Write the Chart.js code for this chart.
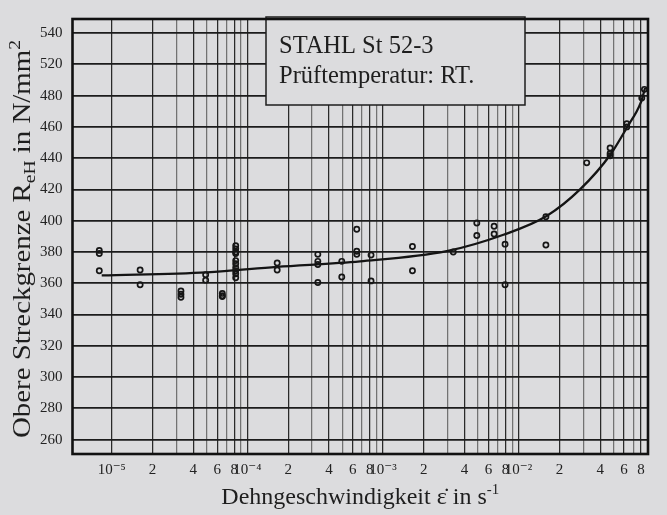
<!DOCTYPE html>
<html>
<head>
<meta charset="utf-8">
<script src="https://cdn.jsdelivr.net/npm/chart.js@4/dist/chart.umd.min.js"></script>
<style>
  html, body { margin: 0; padding: 0; background: #dcdcde; }
  #wrap { width: 667px; height: 515px; position: relative; }
</style>
</head>
<body>
<div id="wrap"><canvas id="c" width="667" height="515"></canvas></div>
<script>
// Upper yield strength of steel St 52-3 at room temperature, measured over strain rate.
const rateMeasured = [
  8.1e-6, 8.1e-6, 8.1e-6,
  1.62e-5, 1.62e-5,
  3.24e-5, 3.24e-5, 3.24e-5,
  4.93e-5, 4.93e-5,
  6.54e-5, 6.54e-5, 6.54e-5,
  8.21e-5, 8.21e-5, 8.21e-5, 8.21e-5, 8.21e-5, 8.21e-5, 8.21e-5, 8.21e-5, 8.21e-5, 8.21e-5,
  1.66e-4, 1.66e-4,
  3.31e-4, 3.31e-4, 3.31e-4, 3.31e-4,
  4.97e-4, 4.97e-4,
  6.41e-4, 6.41e-4, 6.41e-4,
  8.17e-4, 8.17e-4,
  1.65e-3, 1.65e-3,
  3.30e-3,
  4.92e-3, 4.92e-3,
  6.6e-3, 6.6e-3,
  7.95e-3, 7.95e-3,
  1.59e-2, 1.59e-2,
  3.18e-2,
  4.73e-2, 4.73e-2, 4.73e-2,
  6.28e-2, 6.28e-2,
  8.1e-2,
  8.47e-2
];
const stressMeasured = [
  381, 379, 368,
  368.5, 359,
  355, 353, 351,
  365.5, 362,
  353.5, 352, 351.5,
  384, 382, 380, 379, 374.5, 372.5, 370, 368, 366, 363.5,
  373, 368.5,
  378.5, 374, 372, 360.5,
  374, 364,
  394.5, 380.5, 378.5,
  378, 361.5,
  383.5, 368,
  380,
  398.5, 390.5,
  396.5, 391.5,
  385, 359,
  402.5, 384.5,
  437,
  441.5, 443, 446.5,
  460, 462,
  478.5,
  484
];

// Fitted trend line
const rateCurve   = [8.44e-6, 5.02e-5, 1.65e-4, 6.78e-4, 2.95e-3, 7.73e-3, 1.61e-2, 2.84e-2, 4.73e-2, 6.28e-2, 8.0e-2, 8.57e-2];
const stressCurve = [365,     367,     370.5,   374,     380.5,   391,     403,     420,     442,     459.5,   476,    485];

// Axis ticks
const decadeExponents = [-5, -4, -3, -2];
const mantissas = [1, 2, 3, 4, 5, 6, 7, 8, 9];
const labelledMantissas = [1, 2, 4, 6, 8];
const stressTicks = [260, 280, 300, 320, 340, 360, 380, 400, 420, 440, 460, 480, 500, 520];
const rateMin = 5.14e-6, rateMax = 0.0900;
const stressMin = 250.8, stressMax = 529;

const SERIF = '"Liberation Serif", "DejaVu Serif", serif';
const SUP = { '-': '\u207B', '0': '\u2070', '1': '\u00B9', '2': '\u00B2', '3': '\u00B3', '4': '\u2074', '5': '\u2075', '6': '\u2076', '7': '\u2077', '8': '\u2078', '9': '\u2079' };
const sup = s => String(s).split('').map(ch => SUP[ch] || ch).join('');

function splitLog(v) {
  const e = Math.floor(Math.log10(v) + 1e-9);
  const m = Math.round(v / Math.pow(10, e));
  return { e, m };
}

const rateTickValues = [];
decadeExponents.forEach(e => mantissas.forEach(m => {
  const v = m * Math.pow(10, e);
  if (v >= 1e-5 && v < 0.089) rateTickValues.push(v);
}));

const points = rateMeasured.map((x, i) => ({ x, y: stressMeasured[i] }));
const curve = rateCurve.map((x, i) => ({ x, y: stressCurve[i] }));

// Draws a row of text pieces (with sub/superscripts) centred on the origin,
// optionally stretched to a given overall length
function richText(ctx, parts, baseSize, length) {
  let total = 0;
  parts.forEach(p => {
    ctx.font = (p.scale ? baseSize * p.scale : baseSize) + 'px ' + SERIF;
    p.w = ctx.measureText(p.t).width;
    total += p.w;
  });
  if (length) ctx.scale(length / total, 1);
  let x = -total / 2;
  parts.forEach(p => {
    ctx.font = (p.scale ? baseSize * p.scale : baseSize) + 'px ' + SERIF;
    ctx.fillText(p.t, x, (p.dy || 0) * baseSize);
    x += p.w;
  });
}

const decorations = {
  id: 'decorations',
  beforeDatasetsDraw(chart) {
    const ctx = chart.ctx;
    // legend panel
    ctx.save();
    ctx.fillStyle = '#dcdcde';
    ctx.fillRect(266, 17, 259, 88);
    ctx.strokeStyle = '#1e1e1e';
    ctx.lineWidth = 1.5;
    ctx.strokeRect(266, 17, 259, 88);
    ctx.fillStyle = '#1e1e1e';
    ctx.textAlign = 'left';
    ctx.textBaseline = 'alphabetic';
    ctx.font = '24.5px ' + SERIF;
    ctx.fillText('STAHL St 52-3', 279, 53);
    ctx.fillText('Prüftemperatur: RT.', 279, 83);
    ctx.restore();
  },
  afterDatasetsDraw(chart) {
    const { ctx, chartArea: a } = chart;
    ctx.save();
    ctx.strokeStyle = '#111';
    ctx.lineWidth = 2.6;
    ctx.strokeRect(a.left, a.top, a.right - a.left, a.bottom - a.top);
    ctx.restore();
  },
  afterDraw(chart) {
    const { ctx, chartArea: a } = chart;
    ctx.save();
    ctx.fillStyle = '#1e1e1e';
    ctx.textAlign = 'left';
    ctx.textBaseline = 'alphabetic';
    // x-axis title
    ctx.save();
    ctx.translate((a.left + a.right) / 2, 504);
    richText(ctx, [
      { t: 'Dehngeschwindigkeit ' },
      { t: 'ε\u0307' },
      { t: ' in s' },
      { t: '-1', scale: 0.62, dy: -0.42 }
    ], 24);
    ctx.restore();
    // y-axis title
    ctx.save();
    ctx.translate(30, 239);
    ctx.rotate(-Math.PI / 2);
    richText(ctx, [
      { t: 'Obere Streckgrenze R' },
      { t: 'eH', scale: 0.68, dy: 0.2 },
      { t: ' in N/mm' },
      { t: '2', scale: 0.68, dy: -0.42 }
    ], 25, 398);
    ctx.restore();
    ctx.restore();
  }
};

new Chart(document.getElementById('c'), {
  type: 'scatter',
  data: {
    datasets: [
      {
        data: curve,
        showLine: true,
        cubicInterpolationMode: 'monotone',
        borderColor: '#141414',
        borderWidth: 2.3,
        pointRadius: 0,
        pointHoverRadius: 0,
        fill: false,
        order: 2
      },
      {
        data: points,
        showLine: false,
        pointRadius: 2.6,
        pointBorderWidth: 1.7,
        pointBorderColor: '#161616',
        pointBackgroundColor: 'rgba(0,0,0,0)',
        order: 1
      }
    ]
  },
  options: {
    responsive: false,
    animation: false,
    events: [],
    layout: { padding: { top: 17, right: 19, left: 0, bottom: 0 } },
    plugins: { legend: { display: false }, tooltip: { enabled: false } },
    scales: {
      x: {
        type: 'logarithmic',
        min: rateMin,
        max: rateMax,
        afterBuildTicks: s => { s.ticks = rateTickValues.map(v => ({ value: v })); },
        afterFit: s => { s.height = 61; },
        border: { display: false },
        grid: {
          drawTicks: false,
          lineWidth: 1.25,
          color: c => labelledMantissas.includes(splitLog(c.tick.value).m) ? '#2a2a2a' : '#727272'
        },
        ticks: {
          autoSkip: false,
          maxRotation: 0,
          minRotation: 0,
          padding: 7,
          color: '#222',
          font: { family: SERIF, size: 15 },
          callback: v => {
            const { e, m } = splitLog(v);
            if (!labelledMantissas.includes(m)) return '';
            return m === 1 ? '10' + sup(e) : String(m);
          }
        }
      },
      y: {
        type: 'linear',
        min: stressMin,
        max: stressMax,
        afterBuildTicks: s => { s.ticks = stressTicks.map(v => ({ value: v })); },
        afterFit: s => { s.width = 72.5; },
        border: { display: false },
        grid: { drawTicks: false, lineWidth: 1.7, color: '#1c1c1c' },
        ticks: {
          padding: 10,
          color: '#222',
          font: { family: SERIF, size: 15 },
          // the printed scale steps from 480 straight to 520
          callback: v => (v > 480 ? v + 20 : v)
        }
      }
    }
  },
  plugins: [decorations]
});
</script>
</body>
</html>
